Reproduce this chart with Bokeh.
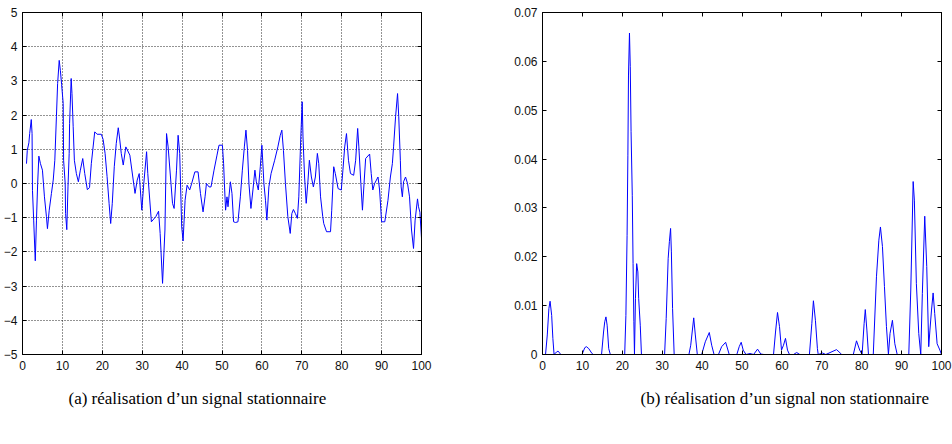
from bokeh.plotting import figure
from bokeh.layouts import row
from bokeh.models import Range1d, LinearAxis, FixedTicker, Title, CustomJSTickFormatter
from bokeh.embed import file_html
from bokeh.resources import INLINE

# ---- data: stationary signal (a) ----
sig_a_x = [1, 1.2, 1.6, 1.8, 2.2, 2.4, 2.5, 2.8, 3.2, 3.5, 3.8, 4.1, 4.5, 5, 5.5, 6, 6.25, 6.7, 7.25, 7.7,
           8.1, 8.5, 8.8, 9.2, 9.5, 9.8, 10.2, 10.3, 10.7, 10.8, 11.1, 11.4, 11.7, 11.8, 12.2, 12.4, 12.7, 13,
           13.5, 14, 14.5, 15.1, 15.6, 16.25, 16.8, 17.25, 18.1, 18.7, 19.75, 20.2, 20.7, 21.2, 21.7, 22.1,
           22.5, 23, 23.5, 24, 24.3, 24.75, 25.25, 25.9, 26.9, 28.2, 28.75, 29.25, 29.9, 30.4, 31.1, 31.4,
           32.3, 33.4, 34.1, 34.5, 35.1, 35.7, 36.1, 36.5, 37.6, 38, 38.6, 39, 39.4, 39.9, 40.25, 40.75,
           41.25, 41.9, 42.4, 43.2, 44, 44.6, 45.25, 45.75, 46.1, 46.75, 47.25, 48, 48.75, 49.25, 50.1,
           50.4, 50.6, 50.9, 51.25, 51.5, 52.1, 52.5, 52.9, 53.4, 54, 54.6, 55.1, 55.6, 56, 56.4, 56.75,
           57.25, 57.75, 58.25, 58.6, 59.1, 59.6, 60, 60.5, 60.9, 61.25, 61.75, 62.3, 63.2, 64, 64.6, 65,
           65.4, 65.9, 66.5, 67.1, 67.5, 67.9, 68.4, 68.9, 69.25, 69.75, 70.1, 70.3, 70.7, 71.1, 71.5, 71.9,
           72.4, 72.9, 73.4, 73.9, 74.25, 74.7, 75.25, 75.5, 76.2, 77.2, 77.5, 78, 78.4, 79.1, 79.9, 80.3,
           80.75, 81.2, 81.7, 82.2, 83, 83.5, 84, 84.3, 84.8, 85.2, 85.6, 86, 87, 87.4, 87.8, 88.25, 89.1,
           89.5, 90, 90.8, 91.6, 92.2, 92.7, 93, 93.5, 94, 94.3, 94.7, 94.9, 95.2, 95.5, 96, 96.5, 97, 97.5,
           98, 98.4, 99.0, 99.25, 99.6, 100]
sig_a_y = [0.58, 0.97, 1.19, 1.46, 1.87, 1.46, -0.2, -1.07, -2.26, -1.07, 0, 0.8, 0.58, 0.39, -0.39, -0.97,
           -1.32, -0.78, -0.29, 0.1, 0.68, 1.95, 2.92, 3.6, 3.3, 2.9, 2.34, 0.68, 0, -0.88, -1.35, -0.1,
           0.88, 1.75, 3.07, 2.63, 1.66, 0.68, 0.29, 0.05, 0.39, 0.73, 0.29, -0.18, -0.12, 0.58, 1.51, 1.44,
           1.44, 1.29, 0.88, 0.2, -0.58, -1.17, -0.58, 0.49, 1.17, 1.63, 1.36, 0.88, 0.54, 1.07, 0.83,
           -0.29, 0.1, 0.29, -0.78, 0, 0.93, 0.29, -1.12, -0.97, -0.81, -1.46, -2.92, -1.36, 1.46, 1.07,
           -0.58, -0.73, 0.39, 1.41, 0.88, -1.27, -1.68, -0.49, -0.05, -0.19, 0, 0.34, 0.34, -0.29, -0.83,
           -0.39, 0, -0.1, -0.1, 0.39, 0.83, 1.12, 1.12, 0.58, 0, -0.78, -0.39, -0.68, 0.05, -0.29, -1.12,
           -1.14, -1.12, -0.39, 0.39, 1.07, 1.56, 0.97, 0, -0.73, -0.19, 0.39, 0.05, -0.19, 0.49, 1.12, 0,
           -0.49, -1.07, -0.1, 0.29, 0.68, 1.07, 1.41, 1.56, 0.97, 0, -0.97, -1.46, -0.88, -0.76, -0.88,
           -1.02, -0.39, 1.36, 2.39, 1.36, 0.19, -0.58, 0, 0.68, 0.19, -0.1, 0.19, 0.88, 0.58, -0.39, -0.97,
           -1.17, -1.41, -1.41, -0.78, 0.49, 0.29, -0.15, -0.19, 0.39, 1.07, 1.46, 0.68, 0.29, 0.24, 0.68,
           1.61, 1.07, 0, -0.78, 0, 0.73, 0.86, 0.29, -0.19, 0, 0.19, -0.19, -1.12, -1.12, -0.49, 0.19,
           0.58, 1.07, 1.95, 2.63, 1.95, 0.68, -0.1, -0.39, 0.05, 0.19, 0, -0.39, -1.36, -1.9, -1.07, -0.45,
           -0.68, -0.84, -1.6]

# ---- data: non-stationary signal (b) ----
sig_b_x = [0.76, 1.2, 1.6, 1.9, 2.3, 2.6, 2.9, 3.5, 3.9, 4.6, 9.9, 10.6, 11, 11.6, 12.4, 12.7, 14.8, 15.3,
           15.6, 15.9, 16.2, 16.6, 17, 20.6, 20.9, 21.2, 21.4, 21.55, 21.8, 22, 22.2, 22.5, 22.7, 22.9,
           23.05, 23.3, 23.6, 23.9, 24.1, 24.5, 24.8, 30.6, 31, 31.5, 31.8, 32.1, 32.3, 32.6, 33, 36.7,
           37.15, 37.9, 38.3, 38.8, 39.9, 40.8, 41.8, 42.4, 43, 44.1, 44.9, 45.9, 46.8, 48.7, 49.3, 49.8,
           50.3, 51, 52, 52.9, 53.9, 54.7, 55.5, 57.9, 58.4, 58.9, 59.4, 59.9, 60.4, 60.9, 61.4, 61.9,
           62.9, 63.7, 64.5, 66.9, 67.5, 67.9, 68.4, 68.9, 69.1, 70.2, 71, 73.7, 75, 77.9, 78.7, 79.5,
           80.1, 80.6, 80.9, 81.3, 81.7, 82.9, 83.7, 84.3, 84.7, 85.2, 85.7, 86.2, 86.7, 87.1, 87.7, 88.3,
           88.9, 91.8, 92.3, 92.9, 93.2, 93.7, 94.3, 94.8, 95.2, 95.8, 96.3, 96.8, 97.1, 97.5, 97.9, 98.3,
           98.9, 99.6, 100]
sig_b_y = [0, 0.004, 0.0094, 0.0109, 0.008, 0.0033, 0, 0.0005, 0.0007, 0, 0, 0.0014, 0.0016, 0.0012,
           0.0002, 0, 0, 0.0046, 0.0067, 0.0077, 0.006, 0.0012, 0, 0, 0.008, 0.0244, 0.0408, 0.0572,
           0.0658, 0.0589, 0.0456, 0.0326, 0.0186, 0.0067, 0, 0.0115, 0.0186, 0.0169, 0.0115, 0.006, 0,
           0, 0.0074, 0.0197, 0.0231, 0.0258, 0.021, 0.0094, 0, 0, 0.0019, 0.0075, 0.004, 0, 0, 0.0026,
           0.0045, 0.0019, 0, 0, 0.0016, 0.0025, 0, 0, 0.0016, 0.0025, 0.0009, 0, 0.0002, 0, 0.0011,
           0.0001, 0, 0, 0.0046, 0.0086, 0.0057, 0.0009, 0.0019, 0.0033, 0.0009, 0, 0, 0.0004, 0, 0,
           0.0063, 0.011, 0.007, 0.0012, 0, 0.0003, 0, 0.001, 0, 0, 0.0028, 0.0009, 0, 0.0063, 0.0092,
           0.005, 0, 0, 0.0159, 0.0234, 0.0261, 0.0221, 0.0139, 0.0057, 0, 0.0043, 0.007, 0.0022, 0, 0,
           0.0132, 0.0354, 0.0316, 0.0145, 0.0043, 0, 0.0125, 0.0283, 0.018, 0.0016, 0.005, 0.0091, 0.0126,
           0.0084, 0.0022, 0.0009, 0]

x_ticks = [0, 10, 20, 30, 40, 50, 60, 70, 80, 90, 100]
ya_ticks = [-5, -4, -3, -2, -1, 0, 1, 2, 3, 4, 5]
yb_ticks = [0, 0.01, 0.02, 0.03, 0.04, 0.05, 0.06, 0.07]
caption_a = "(a) réalisation d’un signal stationnaire"
caption_b = "(b) réalisation d’un signal non stationnaire"

LINE_BLUE = "#0000ff"
TICK_FONT = "Liberation Sans"


def style_axis(ax, ticks, standoff):
    ax.ticker = FixedTicker(ticks=ticks)
    ax.major_tick_in = 4
    ax.major_tick_out = 0
    ax.minor_tick_line_color = None
    ax.axis_line_color = "black"
    ax.major_tick_line_color = "black"
    ax.major_label_text_font = TICK_FONT
    ax.major_label_text_font_size = "12px"
    ax.major_label_text_color = "#111111"
    ax.major_label_standoff = standoff


def tick_only_axis(ticks):
    ax = LinearAxis()
    style_axis(ax, ticks, 0)
    ax.major_label_text_font_size = "1px"
    ax.major_label_text_color = None
    return ax


def make_plot(xs, ys, yticks, y0, y1, grid, left_border, right_border, caption, cap_offset, yfmt=None):
    p = figure(output_backend="svg", toolbar_location=None,
               frame_width=399, frame_height=342,
               min_border_left=left_border, min_border_right=right_border,
               min_border_top=12, min_border_bottom=90,
               x_range=Range1d(0, 100), y_range=Range1d(y0, y1))
    p.outline_line_color = "black"
    p.background_fill_color = "white"
    p.border_fill_color = "white"
    p.line(xs, ys, line_color=LINE_BLUE, line_width=1)

    style_axis(p.xaxis[0], x_ticks, 6)
    style_axis(p.yaxis[0], yticks, 5)
    if yfmt is not None:
        p.yaxis[0].formatter = yfmt

    p.add_layout(tick_only_axis(x_ticks), "above")
    p.add_layout(tick_only_axis(yticks), "right")

    if grid:
        p.xgrid[0].ticker = FixedTicker(ticks=x_ticks)
        p.ygrid[0].ticker = FixedTicker(ticks=yticks)
        for g in (p.xgrid[0], p.ygrid[0]):
            g.grid_line_color = "black"
            g.grid_line_dash = "1 2"
            g.grid_line_width = 1
            g.grid_line_alpha = 0.85
    else:
        p.xgrid.grid_line_color = None
        p.ygrid.grid_line_color = None

    cap = Title(text=caption, align="left", offset=cap_offset,
                text_font="Liberation Serif", text_font_size="17px",
                text_font_style="normal", text_color="black", standoff=28)
    p.add_layout(cap, "below")
    return p


fmt_b = CustomJSTickFormatter(code="return String(Math.round(tick*100)/100);")

p1 = make_plot(sig_a_x, sig_a_y, ya_ticks, -5, 5, True, 22, 55, caption_a, 46)
p2 = make_plot(sig_b_x, sig_b_y, yb_ticks, 0, 0.07, False, 66, 11, caption_b, 98, fmt_b)

layout = row(p1, p2, spacing=0)
open("out.html", "w").write(file_html(layout, INLINE))
